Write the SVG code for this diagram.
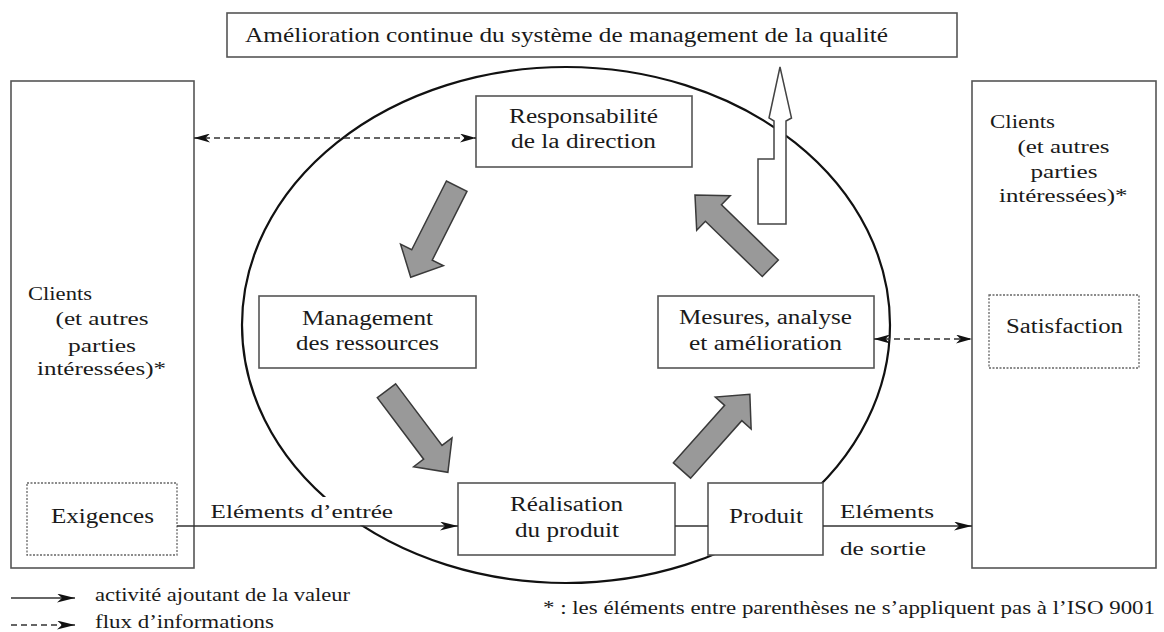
<svg xmlns="http://www.w3.org/2000/svg" width="1164" height="632" viewBox="0 0 1164 632">
<style>
.box{fill:#fff;stroke:#555;stroke-width:1.6}
.dot{fill:none;stroke:#666;stroke-width:1.3;stroke-dasharray:2 1.5}
.ln{stroke:#333;stroke-width:1.5;fill:none}
.dash{stroke:#333;stroke-width:1.5;fill:none;stroke-dasharray:6 4}
.big{fill:#999;stroke:#3a3a3a;stroke-width:1.5;stroke-linejoin:miter}
</style>
<defs>
<marker id="ah" viewBox="0 0 18 9" refX="18" refY="4.5" markerWidth="18" markerHeight="9" markerUnits="userSpaceOnUse" orient="auto-start-reverse">
<path d="M0,0 L18,4.5 L0,9 L5,4.5 Z" fill="#111"/>
</marker>
<marker id="ahs" viewBox="0 0 16 9" refX="16" refY="4.5" markerWidth="16" markerHeight="9" markerUnits="userSpaceOnUse" orient="auto-start-reverse">
<path d="M0,0 L16,4.5 L0,9 L4.5,4.5 Z" fill="#111"/>
</marker>
<path id="fat" d="M0,-11.5 L77,-11.5 L77,-24 L102,0 L77,24 L77,11.5 L0,11.5 Z"/>
</defs>
<rect width="1164" height="632" fill="#fff"/>

<ellipse cx="566" cy="325" rx="324" ry="258" fill="none" stroke="#111" stroke-width="2.2"/>

<g font-family="Liberation Serif" fill="#1a1a1a" font-size="20" lengthAdjust="spacingAndGlyphs">
<g id="top">
<rect class="box" x="227" y="13" width="730" height="44"/>
<text font-family="Liberation Serif" font-size="21" x="245" y="42" textLength="643" lengthAdjust="spacingAndGlyphs">Amélioration continue du système de management de la qualité</text>
</g>

<g id="clients-left">
<rect class="box" x="11" y="81" width="183" height="487"/>
<text font-family="Liberation Serif" font-size="19" x="28" y="300" textLength="64" lengthAdjust="spacingAndGlyphs">Clients</text>
<text font-family="Liberation Serif" font-size="19" x="55.5" y="325" textLength="93" lengthAdjust="spacingAndGlyphs">(et autres</text>
<text font-family="Liberation Serif" font-size="19" x="68" y="352" textLength="68" lengthAdjust="spacingAndGlyphs">parties</text>
<text font-family="Liberation Serif" font-size="19" x="37" y="375" textLength="129" lengthAdjust="spacingAndGlyphs">intéressées)*</text>
</g>
<g id="exigences">
<rect class="dot" x="27" y="483" width="150" height="72"/>
<text font-family="Liberation Serif" font-size="20" x="51" y="523" textLength="103" lengthAdjust="spacingAndGlyphs">Exigences</text>
</g>

<g id="clients-right">
<rect class="box" x="972" y="81" width="184" height="487"/>
<text font-family="Liberation Serif" font-size="19" x="990" y="128" textLength="65" lengthAdjust="spacingAndGlyphs">Clients</text>
<text font-family="Liberation Serif" font-size="19" x="1017.5" y="153" textLength="92" lengthAdjust="spacingAndGlyphs">(et autres</text>
<text font-family="Liberation Serif" font-size="19" x="1030.5" y="178" textLength="67" lengthAdjust="spacingAndGlyphs">parties</text>
<text font-family="Liberation Serif" font-size="19" x="999" y="202" textLength="128.5" lengthAdjust="spacingAndGlyphs">intéressées)*</text>
</g>
<g id="satisfaction">
<rect class="dot" x="989" y="295" width="150" height="73"/>
<text font-family="Liberation Serif" font-size="20" x="1006" y="333" textLength="117" lengthAdjust="spacingAndGlyphs">Satisfaction</text>
</g>

<g id="responsabilite">
<rect class="box" x="476" y="96" width="216" height="71"/>
<text font-family="Liberation Serif" font-size="20" x="509" y="123" textLength="149" lengthAdjust="spacingAndGlyphs">Responsabilité</text>
<text font-family="Liberation Serif" font-size="20" x="511" y="148" textLength="145" lengthAdjust="spacingAndGlyphs">de la direction</text>
</g>

<g id="management">
<rect class="box" x="259" y="296" width="217" height="72"/>
<text font-family="Liberation Serif" font-size="20" x="302" y="325" textLength="131" lengthAdjust="spacingAndGlyphs">Management</text>
<text font-family="Liberation Serif" font-size="20" x="296" y="350" textLength="143" lengthAdjust="spacingAndGlyphs">des ressources</text>
</g>

<g id="mesures">
<rect class="box" x="658" y="296" width="216" height="72"/>
<text font-family="Liberation Serif" font-size="20" x="679" y="324" textLength="173" lengthAdjust="spacingAndGlyphs">Mesures, analyse</text>
<text font-family="Liberation Serif" font-size="20" x="689" y="350" textLength="153" lengthAdjust="spacingAndGlyphs">et amélioration</text>
</g>

<g id="realisation">
<rect class="box" x="458" y="483" width="217" height="72"/>
<text font-family="Liberation Serif" font-size="20" x="510" y="511" textLength="113" lengthAdjust="spacingAndGlyphs">Réalisation</text>
<text font-family="Liberation Serif" font-size="20" x="515" y="537" textLength="104" lengthAdjust="spacingAndGlyphs">du produit</text>
</g>

<g id="produit">
<rect class="box" x="708" y="483" width="115" height="72"/>
<text font-family="Liberation Serif" font-size="20" x="729" y="523" textLength="74" lengthAdjust="spacingAndGlyphs">Produit</text>
</g>

<g id="connectors">
<line class="dash" x1="194" y1="138" x2="476" y2="138" marker-start="url(#ahs)" marker-end="url(#ahs)"/>
<line class="dash" x1="874" y1="339" x2="972" y2="339" marker-start="url(#ahs)" marker-end="url(#ahs)"/>
<rect x="200" y="497" width="198" height="28.5" fill="#fff"/>
<text font-family="Liberation Serif" font-size="19" x="210.5" y="518" textLength="182.5" lengthAdjust="spacingAndGlyphs">Eléments d’entrée</text>
<line class="ln" x1="177" y1="526" x2="458" y2="526" marker-end="url(#ah)"/>
<line class="ln" x1="675" y1="526" x2="708" y2="526"/>
<line class="ln" x1="823" y1="526" x2="972" y2="526" marker-end="url(#ah)"/>
<text font-family="Liberation Serif" font-size="19" x="840" y="518" textLength="94" lengthAdjust="spacingAndGlyphs">Eléments</text>
<text font-family="Liberation Serif" font-size="19" x="840" y="555" textLength="86" lengthAdjust="spacingAndGlyphs">de sortie</text>
<use href="#fat" class="big" transform="translate(456.7,186.2) rotate(116.8)"/>
<use href="#fat" class="big" transform="translate(386.5,390.8) rotate(53)"/>
<use href="#fat" class="big" transform="translate(682,470.5) rotate(-48.3)"/>
<use href="#fat" class="big" transform="translate(770.3,268.3) rotate(-135.8) scale(1.03,1)"/>
<polygon points="780,67 791.5,118 786,121 786,224 758,224 758,159 774,159 774,121 769,118" fill="#fff" stroke="#444" stroke-width="1.5"/>
</g>

<g id="legend">
<line class="ln" x1="11" y1="598" x2="75" y2="598" marker-end="url(#ah)"/>
<text font-family="Liberation Serif" font-size="18" x="95" y="601" textLength="255" lengthAdjust="spacingAndGlyphs">activité ajoutant de la valeur</text>
<line class="dash" x1="11" y1="625" x2="75" y2="625" stroke-dasharray="5 3.5" marker-end="url(#ah)"/>
<text font-family="Liberation Serif" font-size="18" x="95" y="628" textLength="179" lengthAdjust="spacingAndGlyphs">flux d’informations</text>
<text font-family="Liberation Serif" font-size="18" x="543" y="614" textLength="612" lengthAdjust="spacingAndGlyphs">* : les éléments entre parenthèses ne s’appliquent pas à l’ISO 9001</text>
</g>
</g>
</svg>
